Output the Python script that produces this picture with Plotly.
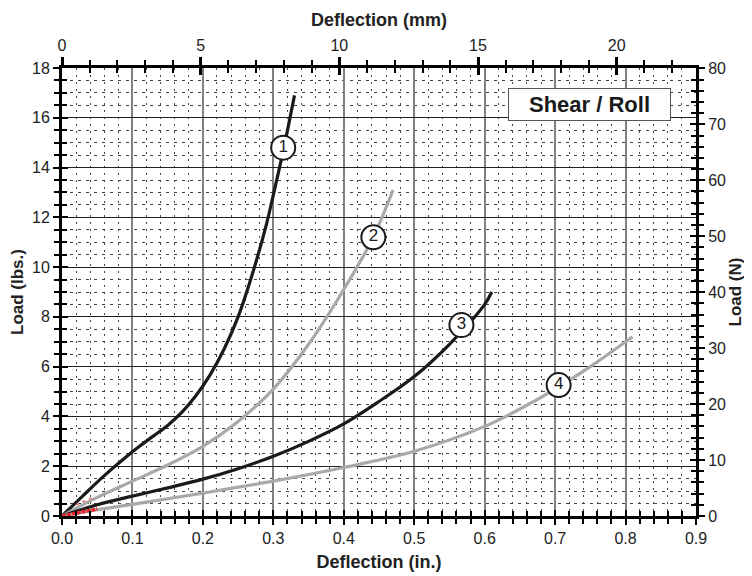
import plotly.graph_objects as go

# ---- data ----
c1_x = [0, 0.03, 0.06, 0.09, 0.11, 0.13, 0.15, 0.17, 0.19, 0.21, 0.23, 0.25, 0.27, 0.29, 0.30, 0.315, 0.33]
c1_y = [0, 0.82, 1.62, 2.35, 2.80, 3.22, 3.64, 4.16, 4.83, 5.66, 6.70, 8.00, 9.70, 11.7, 12.9, 14.8, 16.9]

c2_x = [0, 0.05, 0.10, 0.15, 0.20, 0.25, 0.30, 0.35, 0.40, 0.44, 0.47]
c2_y = [0, 0.75, 1.40, 2.05, 2.80, 3.80, 5.10, 6.90, 9.10, 11.1, 13.1]

c3_x = [0, 0.05, 0.10, 0.15, 0.20, 0.25, 0.30, 0.35, 0.40, 0.45, 0.50, 0.55, 0.60, 0.61]
c3_y = [0, 0.45, 0.80, 1.13, 1.48, 1.90, 2.40, 3.00, 3.70, 4.60, 5.60, 6.90, 8.50, 9.00]

c4_x = [0, 0.05, 0.10, 0.20, 0.30, 0.40, 0.50, 0.60, 0.65, 0.70, 0.75, 0.81]
c4_y = [0, 0.25, 0.47, 0.92, 1.40, 1.95, 2.60, 3.60, 4.30, 5.10, 6.00, 7.20]

red_x = [0, 0.05]
red_y = [0, 0.28]
red2_x = [0.02, 0.047]
red2_y = [0.45, 0.78]

label_text = ["1", "2", "3", "4"]
label_x = [0.314, 0.442, 0.567, 0.705]
label_y = [14.8, 11.2, 7.67, 5.26]

box_text = "Shear / Roll"

IN_MAX = 0.9
LB_MAX = 18
MM_PER_IN = 25.4
N_PER_LB = 4.44822

FONT = "Liberation Sans, Arial, sans-serif"
BLACK = "#1a1a1a"
GRAY = "#a9a9a9"

fig = go.Figure()
for xs, ys, col in [(c1_x, c1_y, BLACK), (c2_x, c2_y, GRAY), (c3_x, c3_y, BLACK), (c4_x, c4_y, GRAY)]:
    fig.add_trace(go.Scatter(x=xs, y=ys, mode="lines",
                             line=dict(color=col, width=3.2, shape="spline", smoothing=1.0)))
fig.add_trace(go.Scatter(x=red_x, y=red_y, mode="lines", line=dict(color="#e8232a", width=3.5, dash="4px,1px")))
fig.add_trace(go.Scatter(x=red2_x, y=red2_y, mode="lines", line=dict(color="#e88080", width=2, dash="3px,4px")))
fig.add_trace(go.Scatter(
    x=label_x, y=label_y, mode="markers+text", text=label_text,
    textposition="middle center",
    textfont=dict(family=FONT, size=17, color=BLACK),
    marker=dict(size=24, color="white", line=dict(color=BLACK, width=2)),
))
# empty traces so the secondary / tick-only axes are drawn
for xa, ya in [("x2", "y2"), ("x3", "y3"), ("x4", "y4")]:
    fig.add_trace(go.Scatter(x=[None], y=[None], xaxis=xa, yaxis=ya, mode="lines", hoverinfo="skip"))

tickfont = dict(family=FONT, size=16, color="#222")
titlefont_x = dict(family=FONT, size=18, color="#222")
titlefont_y = dict(family=FONT, size=17, color="#222")

common_line = dict(showline=True, linewidth=3, linecolor="black", zeroline=False)

# page body has an 8px default margin, so the figure is 8px smaller
fig.update_layout(
    width=744, height=568,
    margin=dict(l=54, r=56, t=60, b=60, autoexpand=False),
    paper_bgcolor="white", plot_bgcolor="white",
    showlegend=False,
    font=dict(family=FONT),
    xaxis=dict(
        range=[0, IN_MAX], dtick=0.1, tick0=0, tickformat=".1f",
        ticks="outside", ticklen=6, tickwidth=2, tickcolor="black",
        tickfont=tickfont,
        showgrid=True, gridcolor="#808080", gridwidth=1.5,
        minor=dict(dtick=0.02, tick0=0, ticks="outside", ticklen=5, tickwidth=1.5, tickcolor="black",
                   showgrid=True, gridcolor="#444", gridwidth=1, griddash="2px,5px"),
        title=dict(text="<b>Deflection (in.)</b>", font=titlefont_x, standoff=10),
        **common_line,
    ),
    xaxis3=dict(
        overlaying="x", anchor="y", side="bottom", range=[0, IN_MAX], dtick=0.1, tick0=0,
        ticks="inside", ticklen=6, tickwidth=2, tickcolor="black", showticklabels=False,
        showgrid=False, zeroline=False, showline=False,
        minor=dict(dtick=0.02, tick0=0, ticks="inside", ticklen=5, tickwidth=1.5, tickcolor="black", showgrid=False),
    ),
    xaxis2=dict(
        overlaying="x", anchor="y", side="top", range=[0, IN_MAX * MM_PER_IN], dtick=5, tick0=0,
        ticks="outside", ticklen=8, tickwidth=2.5, tickcolor="black", tickfont=tickfont,
        showgrid=False,
        minor=dict(dtick=1, tick0=0, ticks="outside", ticklen=5, tickwidth=2, tickcolor="black", showgrid=False),
        title=dict(text="<b>Deflection (mm)</b>", font=titlefont_x, standoff=6),
        **common_line,
    ),
    xaxis4=dict(
        overlaying="x", anchor="y", side="top", range=[0, IN_MAX * MM_PER_IN], dtick=5, tick0=0,
        ticks="inside", ticklen=7, tickwidth=2.5, tickcolor="black", showticklabels=False,
        showgrid=False, zeroline=False, showline=False,
        minor=dict(dtick=1, tick0=0, ticks="inside", ticklen=5, tickwidth=2, tickcolor="black", showgrid=False),
    ),
    yaxis=dict(
        range=[0, LB_MAX], dtick=2, tick0=0,
        ticks="outside", ticklen=6, tickwidth=2, tickcolor="black", tickfont=tickfont,
        showgrid=True, gridcolor="#222", gridwidth=1.3,
        minor=dict(dtick=0.5, tick0=0, ticks="outside", ticklen=5, tickwidth=2, tickcolor="black",
                   showgrid=True, gridcolor="#444", gridwidth=1, griddash="3px,5px"),
        title=dict(text="<b>Load (lbs.)</b>", font=titlefont_y, standoff=6),
        **common_line,
    ),
    yaxis3=dict(
        overlaying="y", anchor="x", side="left", range=[0, LB_MAX], dtick=2, tick0=0,
        ticks="inside", ticklen=6, tickwidth=2, tickcolor="black", showticklabels=False,
        showgrid=False, zeroline=False, showline=False,
        minor=dict(dtick=0.5, tick0=0, ticks="inside", ticklen=5, tickwidth=2, tickcolor="black", showgrid=False),
    ),
    yaxis2=dict(
        overlaying="y", anchor="x", side="right", range=[0, LB_MAX * N_PER_LB], dtick=10, tick0=0,
        ticks="outside", ticklen=6, tickwidth=2, tickcolor="black", tickfont=tickfont,
        showgrid=False,
        minor=dict(dtick=2, tick0=0, ticks="outside", ticklen=5, tickwidth=2, tickcolor="black", showgrid=False),
        title=dict(text="<b>Load (N)</b>", font=titlefont_y, standoff=4),
        **common_line,
    ),
    yaxis4=dict(
        overlaying="y", anchor="x", side="right", range=[0, LB_MAX * N_PER_LB], dtick=10, tick0=0,
        ticks="inside", ticklen=6, tickwidth=2, tickcolor="black", showticklabels=False,
        showgrid=False, zeroline=False, showline=False,
        minor=dict(dtick=2, tick0=0, ticks="inside", ticklen=5, tickwidth=2, tickcolor="black", showgrid=False),
    ),
    annotations=[dict(
        x=0.749, y=16.55, xref="x", yref="y", text="<b>" + box_text + "</b>", showarrow=False,
        xanchor="center", yanchor="middle",
        font=dict(family=FONT, size=22, color="#1a1a1a"),
        bgcolor="white", bordercolor="#555", borderwidth=1, borderpad=2,
        width=157, height=27,
    )],
)

fig.write_html("out.html")
